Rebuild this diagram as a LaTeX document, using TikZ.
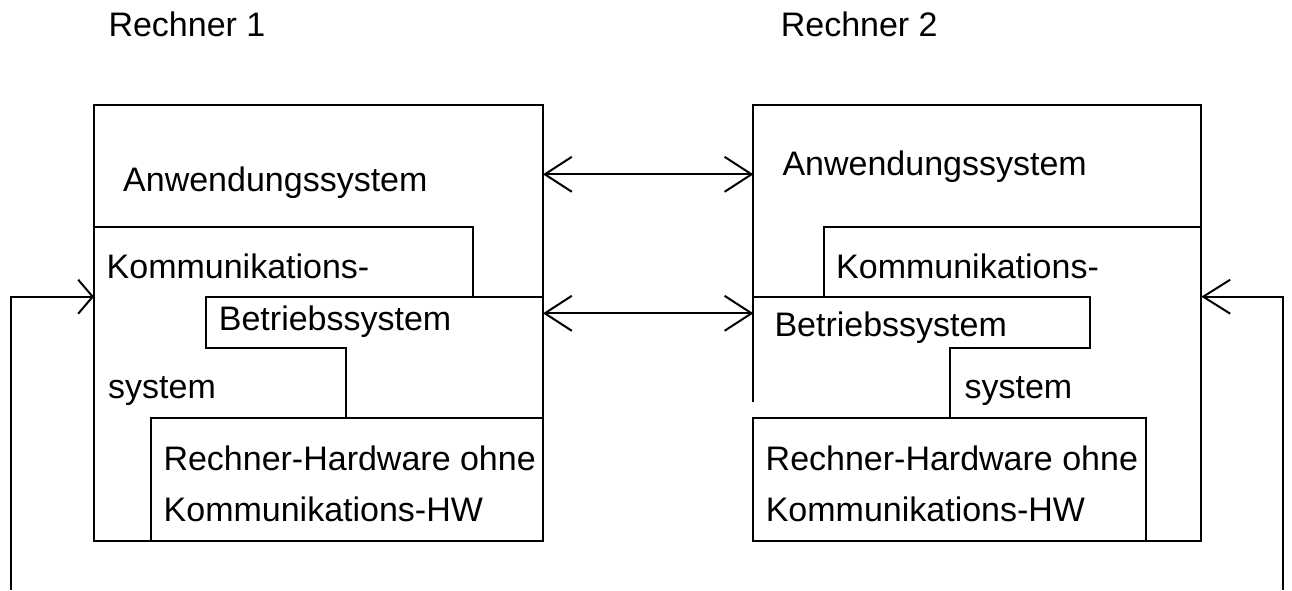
\documentclass[tikz,border=0pt]{standalone}
\usepackage{fontspec}
\setmainfont{Liberation Sans}
\usetikzlibrary{arrows.meta}
\begin{document}
\begin{tikzpicture}[x=1pt,y=-1pt,
  lbl/.style={anchor=base west, inner sep=0pt, font=\fontsize{34}{40}\selectfont},
  frame/.style={line width=2pt, line join=miter},
  link/.style={line width=2pt,
    {Straight Barb[length=27pt,width=35pt]}-{Straight Barb[length=27pt,width=35pt]}},
  feedshort/.style={line width=2pt, -{Straight Barb[length=14.5pt,width=34pt]}},
  feedlong/.style={line width=2pt, -{Straight Barb[length=27pt,width=34pt]}}]
\useasboundingbox (0,0) rectangle (1292,590);

% headings
\node[lbl] (head1) at (108.3,36) {Rechner 1};
\node[lbl] (head2) at (780.6,36) {Rechner 2};

% ---- Rechner 1 ----
\draw[frame] (94,105) rectangle (543,540.7);
\draw[frame] (94,226.7) -- (472.5,226.7) -- (472.5,296.7);
\draw[frame] (543,296.7) -- (206,296.7) -- (206,347.7) -- (346.4,347.7) -- (346.4,418.3);
\draw[frame,fill=white] (150.7,418.3) rectangle (543,540.7);

\node[lbl] (anw1)  at (123,191.7)   {Anwendungssystem};
\node[lbl] (kom1)  at (106.5,278.3) {Kommunikations-};
\node[lbl] (bet1)  at (218.7,330.7) {Betriebssystem};
\node[lbl] (sys1)  at (108,398.3)   {system};
\node[lbl] (hw1a)  at (163.3,470)   {Rechner-Hardware ohne};
\node[lbl] (hw1b)  at (163.5,521.7) {Kommunikations-HW};

% ---- Rechner 2 ----
\draw[frame] (753.4,401.7) -- (753.4,105) -- (1201.3,105) -- (1201.3,540.7) -- (1145.6,540.7);
\draw[frame] (1201.3,226.7) -- (823.5,226.7) -- (823.5,296.7);
\draw[frame] (753.4,296.7) -- (1089.6,296.7) -- (1089.6,347.7) -- (949.5,347.7) -- (949.5,418.3);
\draw[frame] (753.4,418.3) rectangle (1145.6,540.7);

\node[lbl] (anw2)  at (782.3,175)   {Anwendungssystem};
\node[lbl] (kom2)  at (836,278.3)   {Kommunikations-};
\node[lbl] (bet2)  at (774.3,336.7) {Betriebssystem};
\node[lbl] (sys2)  at (964.4,398.3) {system};
\node[lbl] (hw2a)  at (765.5,470)   {Rechner-Hardware ohne};
\node[lbl] (hw2b)  at (765.6,521.7) {Kommunikations-HW};

% connection points
\coordinate (a1) at (543,174.3);
\coordinate (a2) at (753.4,174.3);
\coordinate (b1) at (543,313.3);
\coordinate (b2) at (753.4,313.3);
\coordinate (inL) at (94,296.7);
\coordinate (inR) at (1201.3,296.7);
\coordinate (footL) at (10.7,590);
\coordinate (footR) at (1283.3,590);

% peer-to-peer links
\draw[link] (a1) -- (a2);
\draw[link] (b1) -- (b2);

% physical link below the machines
\draw[feedshort] (footL) |- (inL);
\draw[feedlong] (footR) |- (inR);
\end{tikzpicture}
\end{document}
